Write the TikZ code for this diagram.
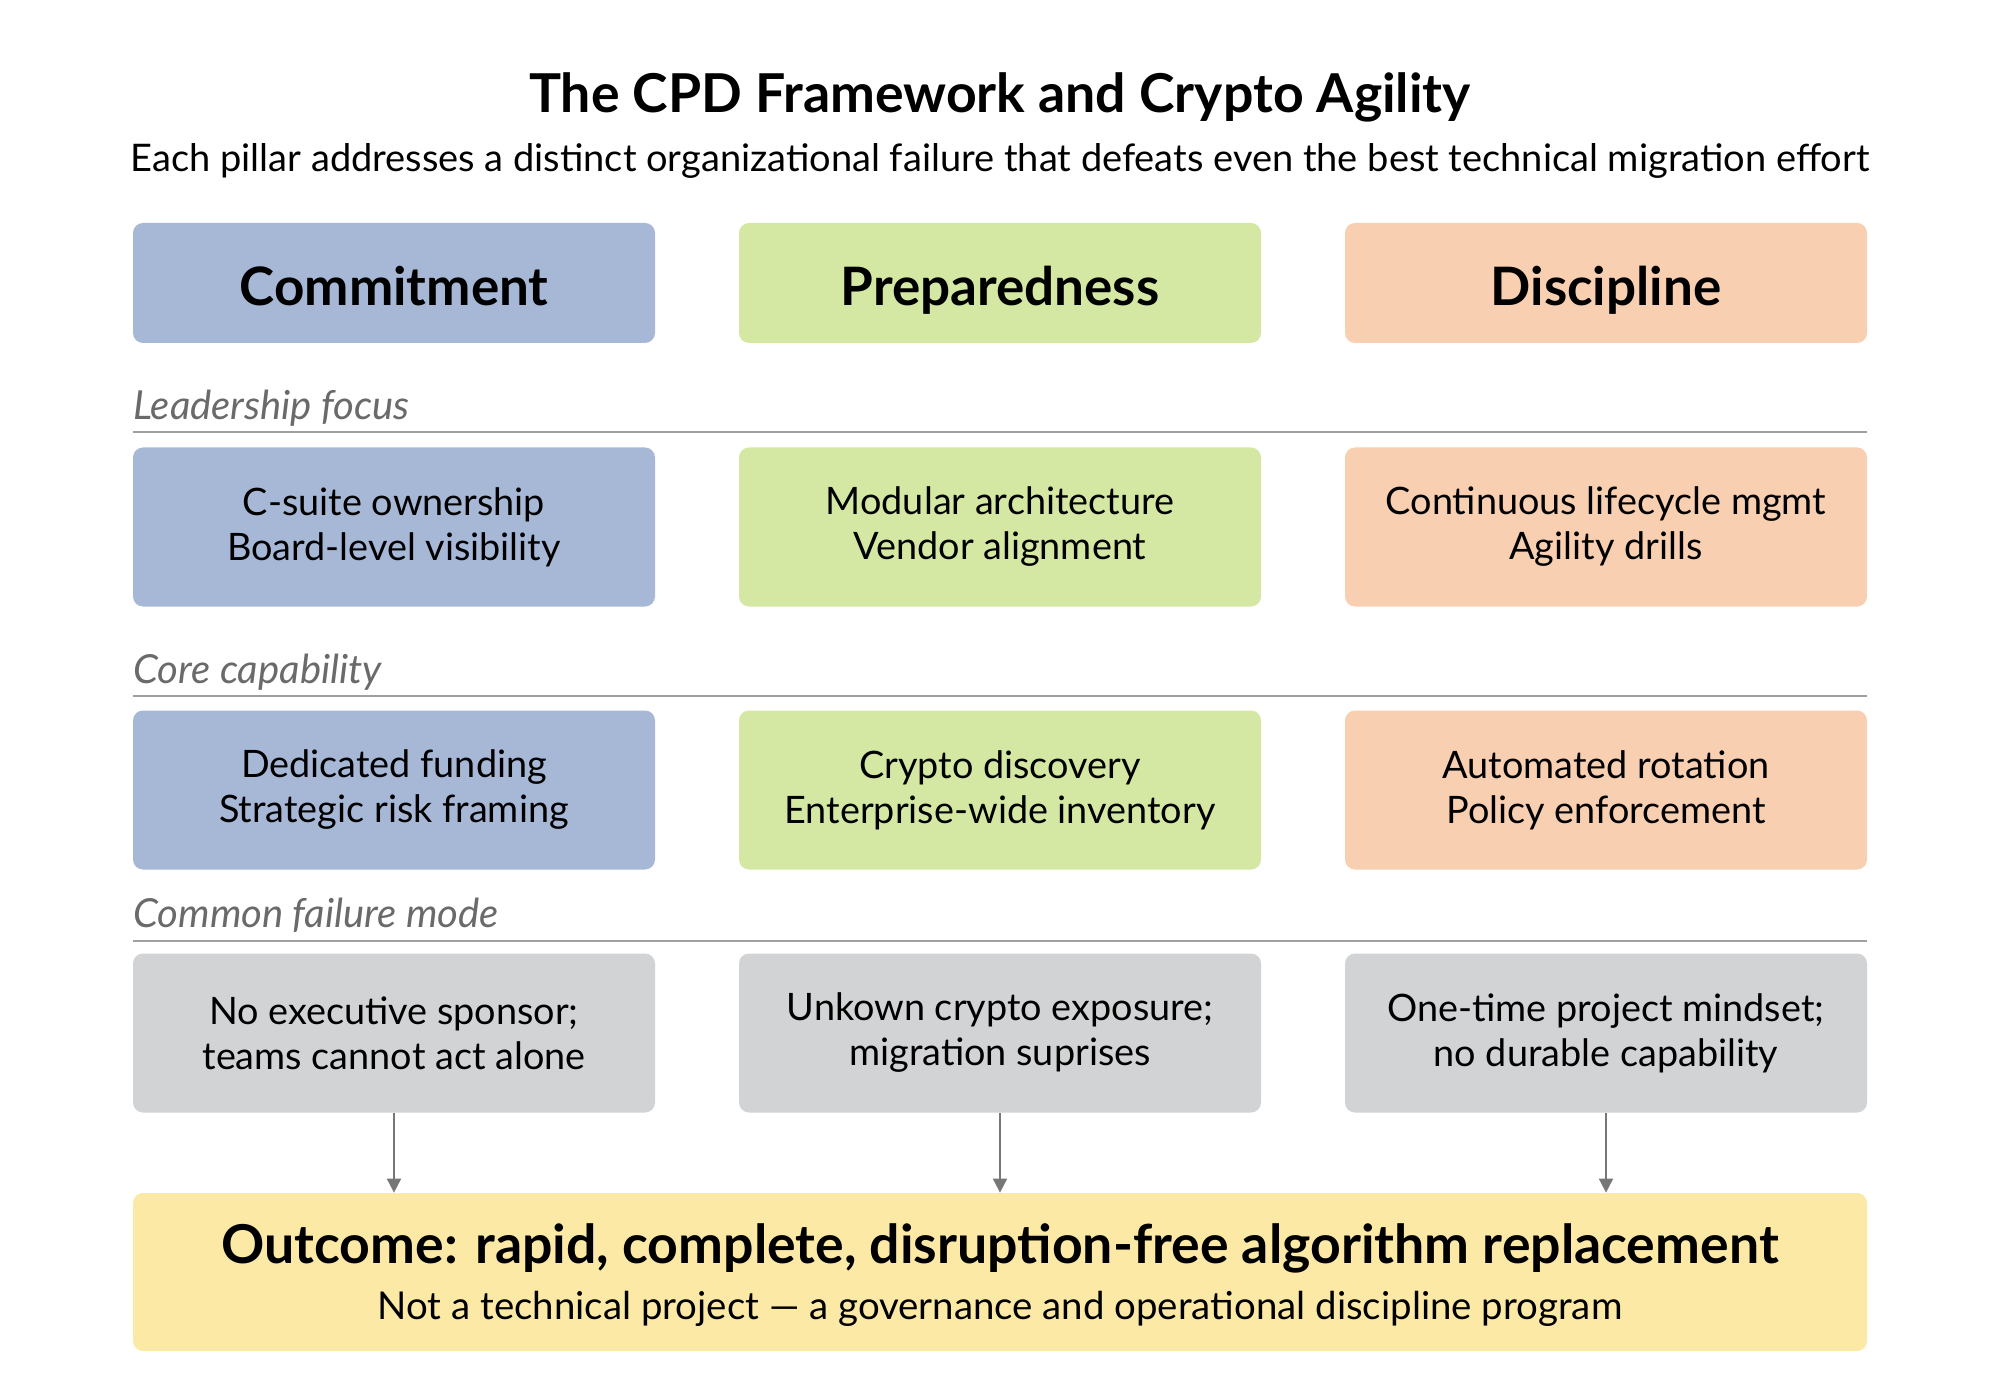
\documentclass[tikz,border=0pt]{standalone}
\usepackage{fontspec}
\setmainfont{Lato}
\usetikzlibrary{arrows.meta}
\definecolor{cblue}{HTML}{A7B8D7}
\definecolor{cgreen}{HTML}{D5E8A3}
\definecolor{corange}{HTML}{F8CFB0}
\definecolor{cgray}{HTML}{D2D3D5}
\definecolor{cyellow}{HTML}{FBE9A5}
\definecolor{rulegray}{HTML}{A0A0A0}
\definecolor{labgray}{HTML}{6A6A6A}
\definecolor{arrgray}{HTML}{777777}
\tikzset{
  x=0.5pt, y=-0.5pt,
  box/.style={rounded corners=5pt, minimum width=261pt, inner sep=0pt, align=center, text=black},
  headbox/.style={box, minimum height=60pt, text height=26pt, text depth=3pt, font=\fontsize{26.5}{30}\selectfont\bfseries},
  cellbox/.style={box, minimum height=79.5pt, font=\fontsize{18.9}{22.5}\selectfont},
  seclabel/.style={anchor=west, inner sep=0pt, text=labgray, font=\fontsize{20}{24}\selectfont\itshape},
  secrule/.style={draw=rulegray, line width=1.2pt},
  arr/.style={draw=arrgray, line width=1pt, -{Triangle[length=7pt,width=7pt]}}
}
\begin{document}
\begin{tikzpicture}
\useasboundingbox[fill=white] (0,0) rectangle (2000,1400);
% title
\node[font=\fontsize{26.8}{31}\selectfont\bfseries] (title) at (1000,97) {The CPD Framework and Crypto Agility};
\node[font=\fontsize{19}{22}\selectfont] (subtitle) at (1000,161) {Each pillar addresses a distinct organizational failure that defeats even the best technical migration effort};
% headers
\node[headbox, fill=cblue] (h1) at (394,283) {Commitment};
\node[headbox, fill=cgreen] (h2) at (1000,283) {Preparedness};
\node[headbox, fill=corange] (h3) at (1606,283) {Discipline};
% section 1
\node[seclabel] (l1) at (133,408) {Leadership focus};
\draw[secrule] (133,432) -- (1867,432);
\node[cellbox, fill=cblue] (a1) at (394,527) {C-suite ownership\\Board-level visibility};
\node[cellbox, fill=cgreen] (a2) at (1000,527) {Modular architecture\\Vendor alignment};
\node[cellbox, fill=corange] (a3) at (1606,527) {Continuous lifecycle mgmt\\Agility drills};
% section 2
\node[seclabel] (l2) at (133,672) {Core capability};
\draw[secrule] (133,696) -- (1867,696);
\node[cellbox, fill=cblue] (b1) at (394,790) {Dedicated funding\\Strategic risk framing};
\node[cellbox, fill=cgreen] (b2) at (1000,790) {Crypto discovery\\Enterprise-wide inventory};
\node[cellbox, fill=corange] (b3) at (1606,790) {Automated rotation\\Policy enforcement};
% section 3
\node[seclabel] (l3) at (133,915) {Common failure mode};
\draw[secrule] (133,941) -- (1867,941);
\node[cellbox, fill=cgray] (c1) at (394,1033) {No executive sponsor;\\teams cannot act alone};
\node[cellbox, fill=cgray] (c2) at (1000,1033) {Unkown crypto exposure;\\migration suprises};
\node[cellbox, fill=cgray] (c3) at (1606,1033) {One-time project mindset;\\no durable capability};
% outcome
\node[box, fill=cyellow, minimum width=867pt, minimum height=79pt] (out) at (1000,1272) {};
\node[font=\fontsize{26.8}{31}\selectfont\bfseries] (outt) at (1000,1248) {Outcome: rapid, complete, disruption-free algorithm replacement};
\node[font=\fontsize{19.2}{22}\selectfont] (outs) at (1000,1309) {Not a technical project — a governance and operational discipline program};
% arrows
\draw[arr] (c1.south) -- (c1.south |- out.north);
\draw[arr] (c2.south) -- (c2.south |- out.north);
\draw[arr] (c3.south) -- (c3.south |- out.north);
\end{tikzpicture}
\end{document}
